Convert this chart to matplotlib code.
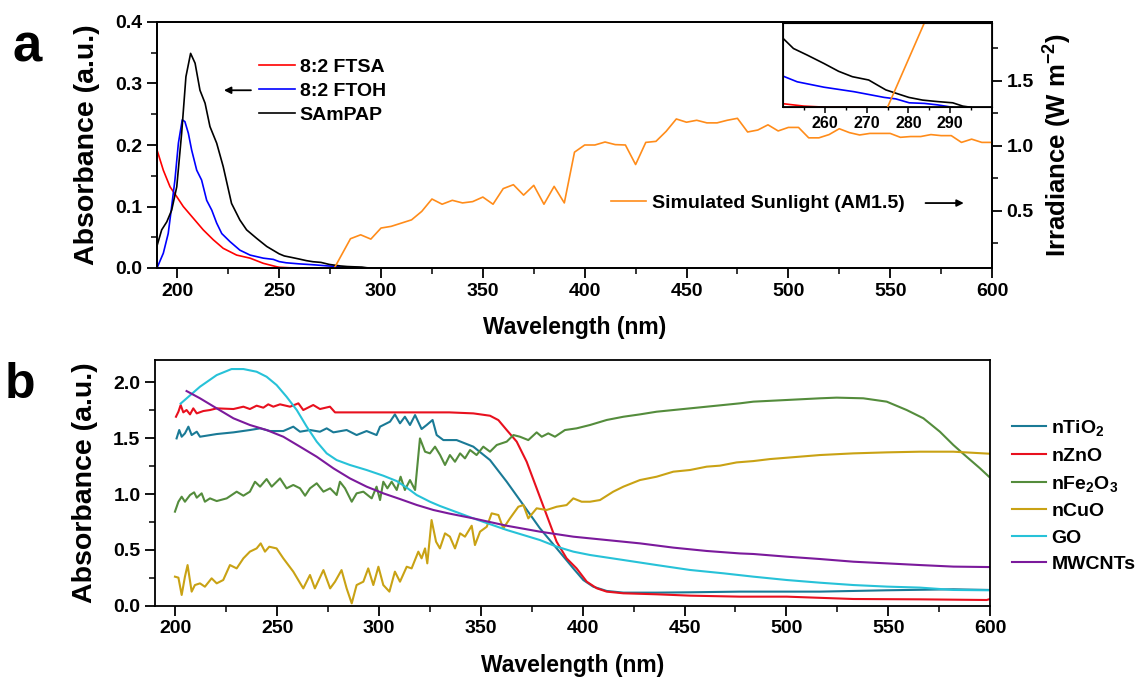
import matplotlib
matplotlib.use("Agg")
import matplotlib.pyplot as plt
from matplotlib.ticker import MultipleLocator, FixedLocator

plt.rcParams['font.family'] = ['Liberation Sans', 'DejaVu Sans']
plt.rcParams['font.weight'] = 'bold'
plt.rcParams['axes.labelweight'] = 'bold'
plt.rcParams['mathtext.fontset'] = 'custom'
plt.rcParams['mathtext.rm'] = 'Liberation Sans:bold'
plt.rcParams['mathtext.it'] = 'Liberation Sans:bold'
plt.rcParams['mathtext.bf'] = 'Liberation Sans:bold'
plt.rcParams['mathtext.default'] = 'rm'

# ---------- panel a data ----------
ftsa_wl = [190, 193.1, 196.4, 199.7, 202.9, 207.8, 212.7, 217.6, 222.5, 229.1, 235.7,
           242.2, 248.8, 250, 255, 260.7, 270]
ftsa_abs = [0.192, 0.159, 0.132, 0.116, 0.100, 0.081, 0.062, 0.046, 0.032, 0.021, 0.016,
            0.0076, 0.002, 0.0012, 0.0004, 0.0, 0.0]

ftoh_wl = [190, 193.1, 195.5, 197.2, 198.8, 200.5, 202.4, 203.7, 205.4, 207, 209.5, 211.9,
           214.4, 216.9, 219.3, 221.8, 225.8, 230.7, 235.7, 242.2, 247.1, 250, 253.4, 259.8,
           267, 274.2, 277, 280.2, 283.8, 287, 290.6]
ftoh_abs = [0.0, 0.024, 0.056, 0.100, 0.143, 0.203, 0.241, 0.238, 0.219, 0.192, 0.159, 0.143,
            0.110, 0.094, 0.073, 0.056, 0.043, 0.029, 0.021, 0.016, 0.014, 0.0104, 0.0085, 0.0067,
            0.0052, 0.0033, 0.0028, 0.0015, 0.0013, 0.0008, 0.0]

sampap_wl = [190, 192.3, 194.8, 197.2, 199.7, 202.1, 204.2, 206.5, 208.7, 211.1, 213.6, 216,
             219.3, 222.5, 226.6, 230.7, 234, 239, 243.9, 250, 252.5, 255.8, 259.8, 263.3, 266.6,
             270.5, 272.6, 274.6, 277, 280.1, 283.4, 287, 290.6, 293, 295]
sampap_abs = [0.036, 0.062, 0.075, 0.094, 0.132, 0.219, 0.311, 0.349, 0.333, 0.289, 0.268, 0.230,
              0.203, 0.165, 0.105, 0.078, 0.062, 0.048, 0.035, 0.023, 0.0196, 0.0174, 0.0146, 0.012,
              0.0102, 0.0091, 0.0074, 0.0058, 0.0047, 0.0033, 0.0024, 0.0019, 0.0015, 0.0004, 0.0]

sun_wl = [275, 285, 290, 295, 300, 305, 315, 320, 325, 330, 335, 340, 345, 350, 355, 360, 365,
          370, 375, 380, 385, 390, 395, 400, 405, 410, 415, 420, 425, 430, 435, 440, 445, 450,
          455, 460, 465, 470, 475, 480, 485, 490, 495, 500, 505, 510, 515, 520, 525, 530, 535,
          540, 545, 550, 555, 560, 565, 570, 575, 580, 585, 590, 595, 600]
sun_irr = [0.0, 0.285, 0.315, 0.282, 0.367, 0.38, 0.43, 0.495, 0.59, 0.55, 0.58, 0.56, 0.57,
           0.605, 0.55, 0.67, 0.70, 0.62, 0.695, 0.55, 0.687, 0.56, 0.95, 1.005, 1.005, 1.028,
           1.008, 1.005, 0.855, 1.025, 1.033, 1.11, 1.205, 1.18, 1.195, 1.175, 1.175, 1.195, 1.21,
           1.105, 1.12, 1.16, 1.113, 1.14, 1.14, 1.06, 1.06, 1.085, 1.13, 1.10, 1.082, 1.094,
           1.094, 1.094, 1.064, 1.07, 1.07, 1.085, 1.077, 1.077, 1.025, 1.05, 1.025, 1.025]

# ---------- panel b data ----------
tio2_wl = [200.6, 201.9, 203.1, 204.7, 206.4, 208.0, 210.5, 212.1, 220.3, 228.5, 236.6, 241.6,
           246.5, 253.0, 257.9, 261.2, 266.1, 271.0, 274.3, 277.6, 284.1, 289.0, 293.9, 298.8,
           300.5, 305.4, 307.8, 310.3, 312.7, 315.2, 317.7, 320.9, 323.4, 326.3, 328.3, 331.6,
           338.1, 346.3, 354.5, 362.7, 370.9, 379.0, 387.2, 395.4, 400.3, 405.2, 411.8, 420.0,
           436.3, 452.7, 477.2, 516.5, 549.3, 582.0, 599.7]
tio2_abs = [1.498, 1.573, 1.513, 1.543, 1.603, 1.528, 1.558, 1.513, 1.537, 1.552, 1.573, 1.588,
            1.564, 1.564, 1.603, 1.558, 1.573, 1.558, 1.588, 1.552, 1.573, 1.528, 1.564, 1.528,
            1.603, 1.648, 1.713, 1.633, 1.692, 1.618, 1.707, 1.582, 1.618, 1.663, 1.528, 1.483,
            1.483, 1.424, 1.304, 1.110, 0.901, 0.693, 0.514, 0.334, 0.230, 0.170, 0.132, 0.117,
            0.117, 0.120, 0.126, 0.126, 0.138, 0.147, 0.141]

zno_wl = [200.3, 201.5, 202.6, 203.9, 205.5, 207.2, 208.8, 210.5, 213.7, 217.0, 220.3, 228.5,
          233.4, 236.6, 239.9, 243.2, 245.6, 248.1, 251.4, 256.3, 260.4, 262.8, 267.7, 271.0,
          275.9, 278.4, 282.5, 302.1, 318.5, 334.5, 346.3, 354.5, 358.6, 362.7, 367.6, 372.5,
          377.4, 382.3, 387.2, 392.1, 397.0, 402.0, 406.9, 411.8, 420.0, 436.4, 452.7, 477.2,
          500.2, 532.9, 565.6, 598.4, 600]
zno_abs = [1.692, 1.737, 1.797, 1.731, 1.752, 1.713, 1.767, 1.722, 1.743, 1.752, 1.767, 1.761,
           1.782, 1.761, 1.791, 1.773, 1.803, 1.782, 1.803, 1.782, 1.812, 1.752, 1.797, 1.761,
           1.782, 1.731, 1.731, 1.731, 1.731, 1.731, 1.722, 1.701, 1.662, 1.573, 1.469, 1.289,
           1.051, 0.812, 0.573, 0.424, 0.334, 0.215, 0.156, 0.126, 0.111, 0.102, 0.090, 0.081,
           0.081, 0.060, 0.057, 0.051, 0.060]

fe2o3_wl = [199.8, 201.5, 203.1, 204.7, 207.2, 209.2, 210.5, 212.9, 214.5, 217.0, 220.3, 225.2,
            230.1, 233.4, 236.6, 239.1, 241.6, 244.8, 247.3, 251.4, 254.6, 257.9, 261.2, 263.7,
            266.1, 269.4, 272.7, 276.0, 279.2, 280.8, 283.3, 286.6, 289.0, 292.3, 296.4, 298.8,
            300.5, 302.1, 304.1, 306.2, 308.7, 310.6, 312.7, 315.2, 317.7, 320.1, 322.6, 325.0,
            327.5, 330.0, 332.4, 334.8, 337.3, 339.8, 342.2, 344.7, 347.9, 351.2, 354.5, 357.8,
            362.7, 366.0, 369.2, 373.3, 377.4, 379.9, 383.1, 386.4, 391.3, 397.0, 403.6, 411.8,
            420.0, 428.1, 436.3, 444.5, 460.9, 477.2, 483.8, 500.2, 516.5, 524.7, 537.8, 549.3,
            559.1, 567.3, 575.4, 582.0, 588.5, 595.1, 599.5]
fe2o3_abs = [0.842, 0.931, 0.976, 0.931, 0.991, 1.015, 0.967, 1.006, 0.931, 0.961, 0.937, 0.961,
             1.021, 0.985, 1.021, 1.110, 1.066, 1.134, 1.066, 1.140, 1.051, 1.081, 1.051, 0.985,
             1.051, 1.096, 1.021, 1.051, 0.991, 1.110, 1.051, 0.931, 1.006, 1.021, 0.961, 1.066,
             0.946, 1.110, 1.051, 1.110, 1.036, 1.155, 1.036, 1.125, 1.036, 1.498, 1.379, 1.364,
             1.424, 1.349, 1.260, 1.349, 1.289, 1.364, 1.319, 1.394, 1.349, 1.424, 1.379, 1.439,
             1.469, 1.528, 1.513, 1.483, 1.552, 1.513, 1.543, 1.513, 1.573, 1.588, 1.618, 1.663,
             1.692, 1.713, 1.737, 1.752, 1.782, 1.812, 1.827, 1.842, 1.857, 1.863, 1.857, 1.827,
             1.752, 1.678, 1.558, 1.439, 1.334, 1.230, 1.155]

cuo_wl = [199.8, 201.5, 203.1, 204.7, 206.0, 208.0, 209.6, 212.1, 214.5, 217.8, 220.3, 223.5,
          226.8, 230.1, 233.4, 236.6, 239.9, 241.9, 244.0, 246.1, 249.7, 253.0, 257.9, 262.8,
          266.1, 268.5, 272.7, 276.0, 278.4, 281.6, 284.1, 286.6, 289.0, 292.3, 294.7, 297.2,
          299.7, 302.1, 305.1, 307.8, 310.3, 313.6, 316.0, 319.3, 320.9, 322.6, 323.7, 325.8,
          328.0, 329.9, 332.4, 334.8, 337.3, 339.8, 342.2, 345.5, 347.1, 349.6, 352.9, 355.3,
          358.6, 361.0, 364.3, 368.4, 370.9, 373.3, 377.4, 382.3, 387.2, 392.1, 395.4, 399.5,
          403.6, 408.5, 415.0, 420.0, 428.1, 436.3, 444.5, 452.7, 460.9, 467.4, 475.6, 483.8,
          492.0, 500.2, 516.5, 532.9, 549.3, 565.6, 582.0, 599.7]
cuo_abs = [0.260, 0.251, 0.096, 0.260, 0.364, 0.126, 0.185, 0.200, 0.170, 0.245, 0.200, 0.230,
           0.364, 0.334, 0.424, 0.484, 0.513, 0.558, 0.484, 0.528, 0.513, 0.424, 0.305, 0.155,
           0.275, 0.155, 0.319, 0.155, 0.215, 0.319, 0.155, 0.021, 0.185, 0.215, 0.334, 0.185,
           0.349, 0.185, 0.126, 0.305, 0.215, 0.349, 0.334, 0.484, 0.424, 0.513, 0.379, 0.767,
           0.573, 0.513, 0.648, 0.618, 0.513, 0.648, 0.618, 0.716, 0.543, 0.663, 0.707, 0.827,
           0.812, 0.692, 0.782, 0.886, 0.901, 0.782, 0.872, 0.857, 0.886, 0.901, 0.961, 0.931,
           0.931, 0.946, 1.021, 1.066, 1.125, 1.155, 1.200, 1.215, 1.245, 1.254, 1.283, 1.295,
           1.313, 1.325, 1.349, 1.364, 1.373, 1.379, 1.379, 1.361]

go_wl = [202.6, 212.1, 220.3, 227.6, 233.4, 239.9, 244.8, 249.7, 254.6, 259.6, 264.5, 269.4,
         274.3, 279.2, 285.7, 293.9, 302.1, 308.7, 313.6, 318.5, 325.0, 329.9, 346.3, 362.7,
         379.0, 387.2, 395.4, 403.6, 420.0, 436.3, 452.7, 469.1, 483.8, 500.2, 516.5, 532.9,
         549.3, 565.6, 582.0, 599.7]
go_abs = [1.810, 1.961, 2.065, 2.119, 2.119, 2.095, 2.050, 1.976, 1.871, 1.752, 1.603, 1.469,
          1.364, 1.304, 1.260, 1.215, 1.164, 1.116, 1.057, 0.991, 0.931, 0.893, 0.782, 0.678,
          0.588, 0.529, 0.484, 0.454, 0.409, 0.364, 0.320, 0.290, 0.260, 0.230, 0.206, 0.185,
          0.171, 0.162, 0.141, 0.138]

mwcnt_wl = [205.5, 212.1, 220.3, 228.5, 236.6, 244.8, 253.0, 261.2, 269.4, 277.6, 285.7, 293.9,
            302.1, 310.3, 318.5, 326.7, 334.5, 346.3, 362.7, 379.0, 395.4, 411.8, 428.2, 444.5,
            460.9, 477.2, 483.8, 500.2, 516.5, 532.9, 549.3, 565.6, 582.0, 599.7]
mwcnt_abs = [1.922, 1.857, 1.767, 1.678, 1.618, 1.573, 1.513, 1.424, 1.334, 1.230, 1.140, 1.066,
             1.006, 0.955, 0.902, 0.857, 0.825, 0.782, 0.716, 0.663, 0.618, 0.588, 0.558, 0.520,
             0.490, 0.468, 0.463, 0.439, 0.418, 0.394, 0.379, 0.364, 0.350, 0.346]

W, H = 1141, 682


def fx(px):
    return px / W


def fy(py):
    return 1 - py / H


def style_axis(ax, size=14):
    for s in ax.spines.values():
        s.set_linewidth(1.3)
    ax.tick_params(which='major', direction='out', length=7, width=1.3, labelsize=size)
    ax.tick_params(which='minor', direction='out', length=4, width=1.1)


fig = plt.figure(figsize=(11.41, 6.82), dpi=100)

# ---------- panel a ----------
ax = fig.add_axes([fx(157), fy(268), fx(992 - 157), (268 - 22) / H])
ax.plot(ftsa_wl, ftsa_abs, color='#ff0000', lw=1.2, label='8:2 FTSA')
ax.plot(ftoh_wl, ftoh_abs, color='#0000ff', lw=1.2, label='8:2 FTOH')
ax.plot(sampap_wl, sampap_abs, color='black', lw=1.2, label='SAmPAP')
ax.set_xlim(190, 600)
ax.set_ylim(0, 0.4)
ax.xaxis.set_major_locator(MultipleLocator(50))
ax.xaxis.set_minor_locator(MultipleLocator(25))
ax.yaxis.set_major_locator(MultipleLocator(0.1))
ax.yaxis.set_minor_locator(MultipleLocator(0.05))
ax.set_xlabel('Wavelength (nm)', fontsize=16.5, labelpad=12)
ax.set_ylabel('Absorbance (a.u.)', fontsize=20.5, labelpad=11)
style_axis(ax)
ax.legend(loc='upper left', bbox_to_anchor=(fx(259), fy(58)), bbox_transform=fig.transFigure,
          frameon=False, borderpad=0, borderaxespad=0, handlelength=1.85, handletextpad=0.25,
          labelspacing=0.33, prop={'size': 14, 'weight': 'bold'})
ax.annotate('', xy=(221.5, 0.289), xytext=(237.5, 0.289),
            arrowprops=dict(arrowstyle='-|>', color='black', lw=1.3, mutation_scale=10))

ax2 = ax.twinx()
ax2.plot(sun_wl, sun_irr, color='#ff8c1a', lw=1.2, label='Simulated Sunlight (AM1.5)')
ax2.set_ylim(0.06, 1.95)
ax2.yaxis.set_major_locator(FixedLocator([0.5, 1.0, 1.5]))
ax2.yaxis.set_minor_locator(FixedLocator([0.25, 0.75, 1.25, 1.75]))
ax2.set_ylabel('Irradiance (W m$^{-2}$)', fontsize=18.5, labelpad=6)
style_axis(ax2)
ax2.legend(loc='center left', bbox_to_anchor=(fx(611), fy(203)), bbox_transform=fig.transFigure,
           frameon=False, borderpad=0, borderaxespad=0, handlelength=1.8, handletextpad=0.33,
           prop={'size': 14, 'weight': 'bold'})
ax2.annotate('', xy=(587.5, 0.559), xytext=(566, 0.559),
             arrowprops=dict(arrowstyle='-|>', color='black', lw=1.3, mutation_scale=10))

# inset
ins = fig.add_axes([fx(783), fy(107.3), fx(992 - 783), (107.3 - 23.3) / H])
ins.plot(ftsa_wl, ftsa_abs, color='#ff0000', lw=1.2)
ins.plot(ftoh_wl, ftoh_abs, color='#0000ff', lw=1.2)
ins.plot(sampap_wl, sampap_abs, color='black', lw=1.2)
ins.set_xlim(250, 300)
ins.set_ylim(0, 0.028)
ins.xaxis.set_major_locator(FixedLocator([260, 270, 280, 290]))
ins.xaxis.set_minor_locator(FixedLocator([255, 265, 275, 285, 295]))
ins.set_yticks([])
for s in ins.spines.values():
    s.set_linewidth(1.3)
ins.tick_params(which='major', direction='out', length=4, width=1.1, labelsize=11.5, pad=2)
ins.tick_params(which='minor', direction='out', length=2.5, width=1.0)
ins2 = ins.twinx()
ins2.plot(sun_wl, sun_irr, color='#ff8c1a', lw=1.2)
ins2.set_ylim(0.0, 0.25)
ins2.set_yticks([])

fig.text(fx(12), fy(62), 'a', fontsize=38, fontweight='bold', ha='left', va='baseline')

# ---------- panel b ----------
bx = fig.add_axes([fx(155), fy(605.7), fx(990 - 155), (605.7 - 360) / H])
bx.plot(tio2_wl, tio2_abs, color='#1a7a96', lw=1.5, label='nTiO$_2$')
bx.plot(zno_wl, zno_abs, color='#e8101e', lw=1.5, label='nZnO')
bx.plot(fe2o3_wl, fe2o3_abs, color='#548c3c', lw=1.5, label='nFe$_2$O$_3$')
bx.plot(cuo_wl, cuo_abs, color='#c9a214', lw=1.5, label='nCuO')
bx.plot(go_wl, go_abs, color='#27c2d8', lw=1.5, label='GO')
bx.plot(mwcnt_wl, mwcnt_abs, color='#7b1a9c', lw=1.5, label='MWCNTs')
bx.set_xlim(190, 600)
bx.set_ylim(0, 2.2)
bx.xaxis.set_major_locator(MultipleLocator(50))
bx.xaxis.set_minor_locator(MultipleLocator(25))
bx.yaxis.set_major_locator(MultipleLocator(0.5))
bx.yaxis.set_minor_locator(MultipleLocator(0.25))
bx.set_xlabel('Wavelength (nm)', fontsize=16.5, labelpad=12)
bx.set_ylabel('Absorbance (a.u.)', fontsize=20.5, labelpad=11)
style_axis(bx)
bx.legend(loc='upper left', bbox_to_anchor=(fx(1012), fy(418)), bbox_transform=fig.transFigure,
          frameon=False, borderpad=0, borderaxespad=0, handlelength=1.75, handletextpad=0.28,
          labelspacing=0.46, prop={'size': 14, 'weight': 'bold'})

fig.text(fx(5), fy(398), 'b', fontsize=36, fontweight='bold', ha='left', va='baseline')

fig.savefig('out.png', dpi=100)
